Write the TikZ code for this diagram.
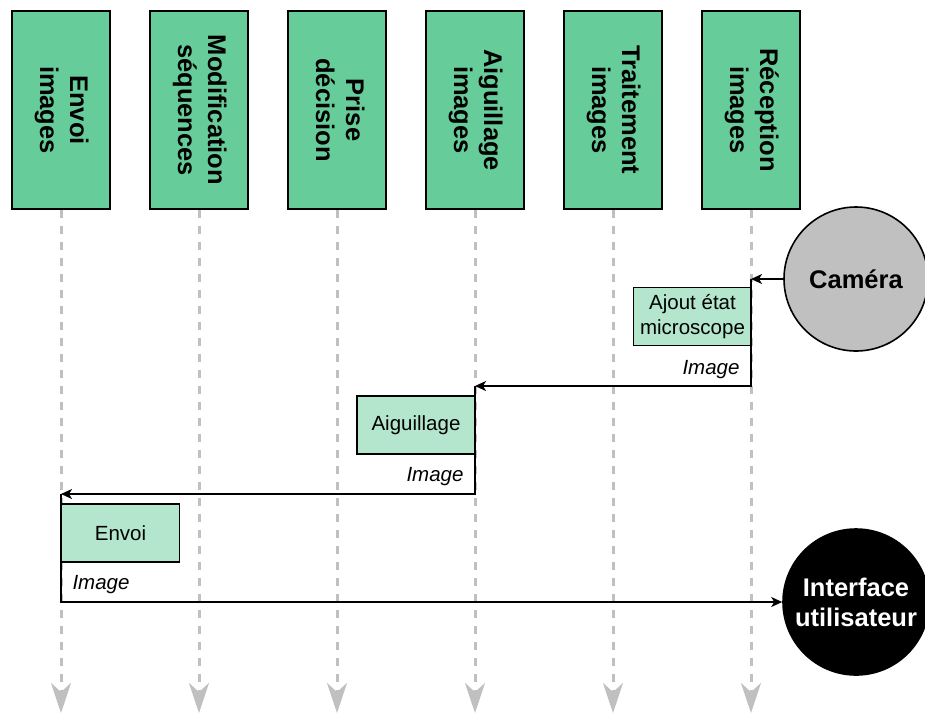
\documentclass[tikz,border=0pt]{standalone}
\usepackage{fontspec}
\setmainfont{Liberation Sans}
\usetikzlibrary{arrows.meta,positioning}

\definecolor{couloir}{HTML}{66CC99}
\definecolor{tache}{HTML}{B3E6CC}
\definecolor{gris}{HTML}{C0C0C0}

\newcommand{\gros}{\fontsize{25.5}{30}\selectfont\bfseries}
\newcommand{\petit}{\fontsize{20.5}{25}\selectfont}
\newcommand{\entete}[2]{\rotatebox{-90}{\begin{tabular}{@{}c@{}}#1\\#2\end{tabular}}}

\begin{document}
\begin{tikzpicture}[x=1pt, y=-1pt, >={Stealth[length=11pt,width=10pt,inset=3pt]}, line width=1.6pt,
    node distance=38.4pt,
    couloirbox/.style={draw, fill=couloir, minimum width=98pt, minimum height=198pt, inner sep=0pt, font=\gros},
    tachebox/.style={draw, fill=tache, minimum width=118pt, minimum height=58pt, inner sep=0pt, align=center, font=\petit},
    lifeline/.style={draw=gris, line width=3pt, dash pattern=on 8pt off 8pt, -{Stealth[length=30pt,width=20pt,inset=9pt]}},
    msg/.style={font=\petit\itshape, inner sep=0pt}]
    \useasboundingbox (0,0) rectangle (925,715);

    % Headers
    \node[couloirbox] (envoi) at (61,110) {\entete{Envoi}{images}};
    \node[couloirbox, right=of envoi] (modif) {\entete{Modification}{séquences}};
    \node[couloirbox, right=of modif] (prise) {\entete{Prise}{décision}};
    \node[couloirbox, right=of prise] (aiguil) {\entete{Aiguillage}{images}};
    \node[couloirbox, right=of aiguil] (trait) {\entete{Traitement}{images}};
    \node[couloirbox, right=of trait] (recep) {\entete{Réception}{images}};

    % Lifelines
    \foreach \n in {envoi,modif,prise,aiguil,trait,recep}
        \draw[lifeline] (\n.south) -- (\n.south |- 0,713);

    % Camera and user interface
    \node[circle, draw, fill=gris, minimum size=144pt, inner sep=0pt, font=\gros] (camera) at (856,279) {Caméra};
    \node[circle, draw, fill=black, text=white, minimum size=146pt, inner sep=0pt, align=center, font=\gros] (interface) at (856,602) {Interface\\utilisateur};

    % Steps
    \node[tachebox] (ajout) at (692.5,316.5) {Ajout état\\microscope};
    \node[tachebox] (aiguillage) at (416,425) {Aiguillage};
    \node[tachebox] (envoibox) at (120.5,533) {Envoi};

    % Messages
    \coordinate (in1) at (recep.south |- camera);
    \coordinate (in2) at (aiguil.south |- 0,386);
    \coordinate (in3) at (envoi.south |- 0,494);
    \draw[->] (camera) -- (in1);
    \draw[->] (in1) |- (in2);
    \draw[->] (in2) |- (in3);
    \draw[->] (in3) |- (interface);

    % Labels
    \node[msg] (img1) at (711,370) {Image};
    \node[msg] (img2) at (435,477) {Image};
    \node[msg] (img3) at (101,585) {Image};
\end{tikzpicture}
\end{document}
